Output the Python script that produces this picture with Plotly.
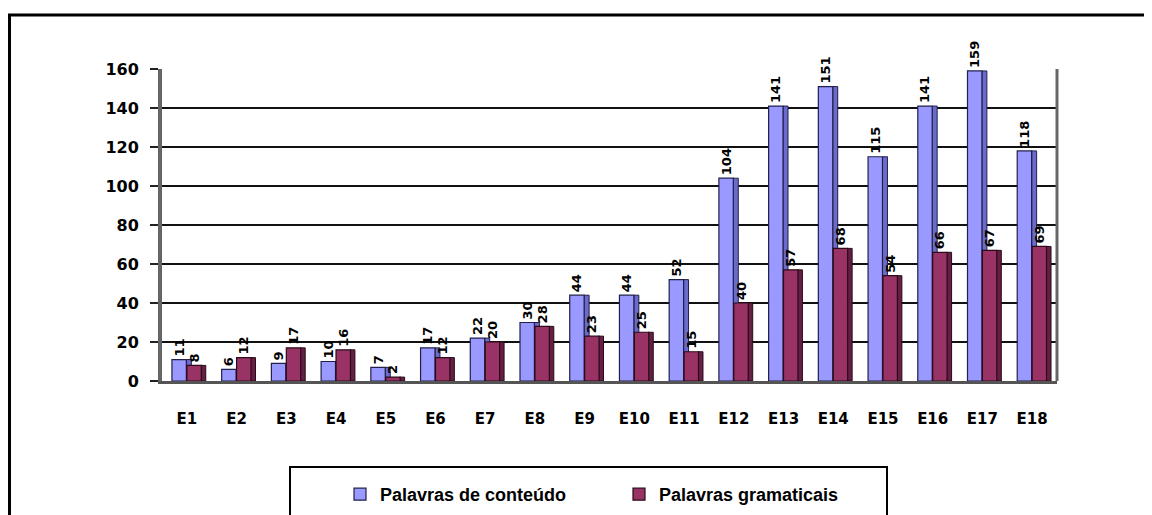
import plotly.graph_objects as go

categories = ["E1", "E2", "E3", "E4", "E5", "E6", "E7", "E8", "E9", "E10",
              "E11", "E12", "E13", "E14", "E15", "E16", "E17", "E18"]
conteudo = [11, 6, 9, 10, 7, 17, 22, 30, 44, 44, 52, 104, 141, 151, 115, 141, 159, 118]
gramaticais = [8, 12, 17, 16, 2, 12, 20, 28, 23, 25, 15, 40, 57, 68, 54, 66, 67, 69]
y_ticks = [0, 20, 40, 60, 80, 100, 120, 140, 160]

W, H = 1152, 515
OFF = 8  # page body margin around the figure
ML, MR, MT, MB = 154, 103, 61, 142
PW, PH = W - ML - MR, H - MT - MB


def px_x(s):
    return (s - OFF - ML) / PW


def px_y(s):
    return (H - MB - (s - OFF)) / PH


TICKFONT = "DejaVu Sans"
LEGFONT = "Liberation Sans"

BLUE, BLUE_SIDE, BLUE_EDGE = "#9999FF", "#6B6BCC", "#20204a"
RED, RED_SIDE, RED_EDGE = "#993366", "#661F44", "#2a0a18"

fig = go.Figure()
# side faces (depth) first, so front faces overlap them
fig.add_trace(go.Bar(
    x=categories, y=conteudo, offset=-0.01, width=0.1, showlegend=False,
    hoverinfo="skip", marker=dict(color=BLUE_SIDE, line=dict(color=BLUE_EDGE, width=1)),
))
fig.add_trace(go.Bar(
    name="Palavras de conteúdo", x=categories, y=conteudo, offset=-0.3, width=0.29,
    marker=dict(color=BLUE, line=dict(color=BLUE_EDGE, width=1.2)),
    text=conteudo, textposition="outside", textangle=-90, constraintext="none",
    textfont=dict(family=TICKFONT, size=13, color="black", weight="bold"),
    cliponaxis=False,
))
fig.add_trace(go.Bar(
    x=categories, y=gramaticais, offset=0.28, width=0.1, showlegend=False,
    hoverinfo="skip", marker=dict(color=RED_SIDE, line=dict(color=RED_EDGE, width=1)),
))
fig.add_trace(go.Bar(
    name="Palavras gramaticais", x=categories, y=gramaticais, offset=0.0, width=0.29,
    marker=dict(color=RED, line=dict(color=RED_EDGE, width=1.2)),
    text=gramaticais, textposition="outside", textangle=-90, constraintext="none",
    textfont=dict(family=TICKFONT, size=13, color="black", weight="bold"),
    cliponaxis=False,
))

shapes = [
    # outer chart border (top and left edges visible)
    dict(type="path", xref="paper", yref="paper",
         path=f"M {px_x(9.5)},{px_y(540)} L {px_x(9.5)},{px_y(15)} L {px_x(1170)},{px_y(15)}",
         line=dict(color="black", width=3), layer="below"),
    # legend box
    dict(type="rect", xref="paper", yref="paper",
         x0=px_x(290), x1=px_x(887), y0=px_y(540), y1=px_y(467),
         line=dict(color="black", width=2), layer="below"),
    # right wall edge
    dict(type="line", xref="paper", yref="paper",
         x0=1, x1=1, y0=0, y1=1, line=dict(color="#666666", width=3)),
]

fig.update_layout(
    width=W, height=H,
    margin=dict(l=ML, r=MR, t=MT, b=MB, autoexpand=False),
    paper_bgcolor="white", plot_bgcolor="white",
    barmode="overlay",
    font=dict(family=TICKFONT, size=14, color="black", weight="bold"),
    showlegend=True,
    legend=dict(orientation="h", x=px_x(340), y=px_y(476), xanchor="left", yanchor="top",
                entrywidth=234, entrywidthmode="pixels", traceorder="normal",
                font=dict(family=LEGFONT, size=18, color="black", weight="bold"),
                bgcolor="rgba(0,0,0,0)"),
    shapes=shapes,
)
fig.update_yaxes(range=[0, 160], tickvals=y_ticks, showgrid=True,
                 gridcolor="#111111", gridwidth=2, showline=True,
                 linecolor="#666666", linewidth=4, ticks="outside",
                 ticklen=8, tickcolor="#222222", tickwidth=2,
                 ticklabelstandoff=8,
                 tickfont=dict(family=TICKFONT, size=16, weight="bold"),
                 zeroline=False)
fig.update_xaxes(showline=True, linecolor="#555555", linewidth=3, ticks="",
                 ticklabelstandoff=22,
                 tickfont=dict(family=TICKFONT, size=15, weight="bold"))

fig.write_html("out.html")
